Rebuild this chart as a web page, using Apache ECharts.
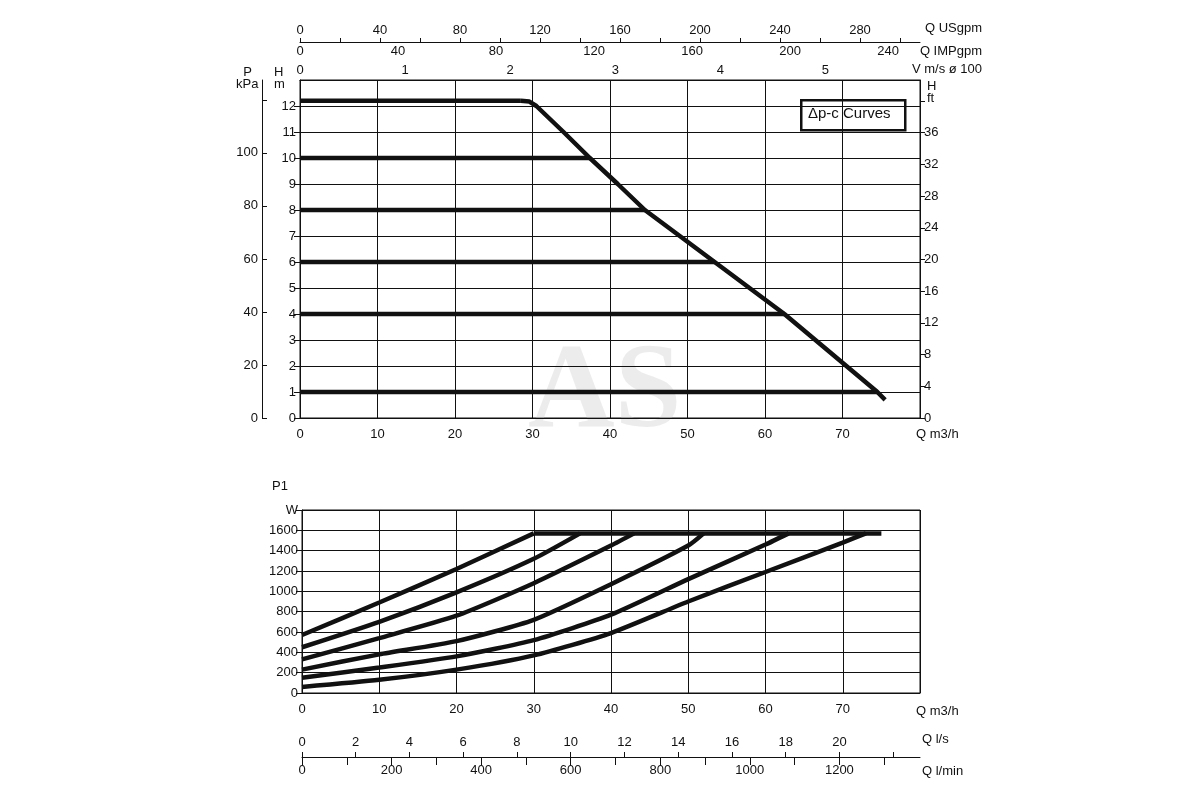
<!DOCTYPE html>
<html>
<head>
<meta charset="utf-8">
<script src="https://cdn.jsdelivr.net/npm/echarts@6/dist/echarts.min.js"></script>
<style>html,body{margin:0;padding:0;background:#fff}#main{width:1200px;height:800px}</style>
</head>
<body>
<div id="main"></div>
<script>
var FONT = "'Liberation Sans Narrow', 'Liberation Sans', Arial, sans-serif";
var TXT = { color: "#111", fontFamily: FONT, fontSize: 13 };

/** 上图：Δp-c 曲线 */
var headLevels = [
    { h: 12.2, qEnd: 28.5 },
    { h: 10, qEnd: 37.4 },
    { h: 8, qEnd: 44.5 },
    { h: 6, qEnd: 53.5 },
    { h: 4, qEnd: 62.5 },
    { h: 1, qEnd: 74.5 }
];
var maxCurve = [[28.5, 12.2], [29.6, 12.17], [30.5, 12], [34, 11], [37.4, 10], [41, 9],
    [44.5, 8], [49, 7], [53.5, 6], [58, 5], [62.5, 4], [66.5, 3], [70.5, 2], [74.5, 1], [75.5, 0.7]];

/** 下图：P1 功率曲线 */
var powerCurves = [
    [[0, 570], [10, 890], [20, 1220], [30, 1570]],
    [[0, 450], [10, 700], [20, 990], [30, 1320], [36, 1570]],
    [[0, 330], [10, 540], [20, 760], [30, 1080], [40, 1450], [43, 1570]],
    [[0, 230], [10, 380], [20, 510], [30, 720], [40, 1070], [50, 1450], [52, 1570]],
    [[0, 150], [10, 250], [20, 360], [30, 520], [40, 770], [50, 1120], [60, 1460], [63, 1570]],
    [[0, 60], [10, 130], [20, 230], [30, 370], [40, 590], [50, 900], [60, 1190], [70, 1480], [73, 1570]]
];
var powerFlat = [[30, 1570], [75, 1570]];

var blackLine = { onZero: false, lineStyle: { color: "#111", width: 1 } };
var noLine = { show: false, onZero: false };
var noSplit = { show: false };

function thick(data, xi, yi, smooth) {
    return {
        type: "line", data: data, xAxisIndex: xi, yAxisIndex: yi, smooth: smooth || false,
        showSymbol: false, silent: true,
        lineStyle: { color: "#111", width: 4.5 }
    };
}

var series = [];
headLevels.forEach(function (l) { series.push(thick([[0, l.h], [l.qEnd, l.h]], 0, 0)); });
series.push(thick(maxCurve, 0, 0, false));
powerCurves.forEach(function (c) { series.push(thick(c, 4, 3, 0.2)); });
series.push(thick(powerFlat, 4, 3));

function lab(extra) { return Object.assign({ showMaxLabel: false }, TXT, extra); }

var option = {
    animation: false,
    textStyle: TXT,
    grid: [
        { left: 300, right: 280, top: 80, bottom: 382, show: true, borderColor: "#111", borderWidth: 1 },
        { left: 302, right: 280, top: 510, bottom: 107, show: true, borderColor: "#111", borderWidth: 1 }
    ],
    xAxis: [
        // 0 top Q m3/h
        { type: "value", gridIndex: 0, min: 0, max: 80, interval: 10, position: "bottom",
          axisLine: blackLine, axisTick: { show: false }, axisLabel: lab({ margin: 10 }),
          splitLine: { lineStyle: { color: "#111", width: 1 } } },
        // 1 USgpm
        { type: "value", gridIndex: 0, min: 0, max: 310, interval: 20, position: "top", offset: 38,
          axisLine: blackLine, axisTick: { show: true, length: 4, lineStyle: { color: "#111" } },
          axisLabel: lab({ margin: 5, formatter: function (v) { return (v % 40 === 0 && v <= 280) ? v : ""; } }),
          splitLine: noSplit },
        // 2 IMPgpm
        { type: "value", gridIndex: 0, min: 0, max: 253, interval: 40, position: "top", offset: 38,
          axisLine: noLine, axisTick: { show: false },
          axisLabel: lab({ inside: true, margin: 3 }), splitLine: noSplit },
        // 3 V m/s
        { type: "value", gridIndex: 0, min: 0, max: 5.9, interval: 1, position: "top", offset: 0,
          axisLine: blackLine, axisTick: { show: false },
          axisLabel: lab({ margin: 3 }), splitLine: noSplit },
        // 4 bottom Q m3/h
        { type: "value", gridIndex: 1, min: 0, max: 80, interval: 10, position: "bottom",
          axisLine: blackLine, axisTick: { show: false }, axisLabel: lab({ margin: 10 }),
          splitLine: { lineStyle: { color: "#111", width: 1 } } },
        // 5 l/s
        { type: "value", gridIndex: 1, min: 0, max: 23, interval: 2, position: "bottom", offset: 64,
          axisLine: blackLine, axisTick: { show: true, length: 5, inside: true, lineStyle: { color: "#111" } },
          axisLabel: lab({ inside: true, margin: 8, formatter: function (v) { return v <= 20 ? v : ""; } }),
          splitLine: noSplit },
        // 6 l/min
        { type: "value", gridIndex: 1, min: 0, max: 1380, interval: 100, position: "bottom", offset: 64,
          axisLine: noLine, axisTick: { show: true, length: 8, lineStyle: { color: "#111" } },
          axisLabel: lab({ margin: 7, formatter: function (v) { return (v % 200 === 0 && v <= 1200) ? v : ""; } }),
          splitLine: noSplit }
    ],
    yAxis: [
        // 0 H m
        { type: "value", gridIndex: 0, min: 0, max: 13, interval: 1, position: "left",
          axisLine: blackLine, axisTick: { show: true, length: 6, lineStyle: { color: "#111" } },
          axisLabel: lab({ margin: 4 }),
          splitLine: { lineStyle: { color: "#111", width: 1 } } },
        // 1 kPa
        { type: "value", gridIndex: 0, min: 0, max: 127.5, interval: 20, position: "left", offset: 38,
          axisLine: blackLine, axisTick: { show: true, length: 5, inside: true, lineStyle: { color: "#111" } },
          axisLabel: lab({ margin: 4, formatter: function (v) { return v <= 100 ? v : ""; } }), splitLine: noSplit },
        // 2 ft
        { type: "value", gridIndex: 0, min: 0, max: 42.65, interval: 4, position: "right",
          axisLine: blackLine, axisTick: { show: true, length: 5, lineStyle: { color: "#111" } },
          axisLabel: lab({ margin: 4, formatter: function (v) { return v <= 36 ? v : ""; } }),
          splitLine: noSplit },
        // 3 P1 W
        { type: "value", gridIndex: 1, min: 0, max: 1800, interval: 200, position: "left",
          axisLine: blackLine, axisTick: { show: true, length: 6, lineStyle: { color: "#111" } },
          axisLabel: Object.assign({ margin: 4, formatter: function (v) { return v === 1800 ? "W" : v; } }, TXT),
          splitLine: { lineStyle: { color: "#111", width: 1 } } }
    ],
    graphic: [
        { type: "text", left: 236, top: 66, style: { text: "  P\nkPa", fill: "#111", font: "13px " + FONT, lineHeight: 12 } },
        { type: "text", left: 274, top: 66, style: { text: "H\nm", fill: "#111", font: "13px " + FONT, lineHeight: 12 } },
        { type: "text", left: 927, top: 80, style: { text: "H\nft", fill: "#111", font: "13px " + FONT, lineHeight: 12 } },
        { type: "text", right: 218, top: 22, style: { text: "Q USgpm", fill: "#111", font: "13px " + FONT } },
        { type: "text", right: 218, top: 45, style: { text: "Q IMPgpm", fill: "#111", font: "13px " + FONT } },
        { type: "text", right: 218, top: 63, style: { text: "V m/s \u00f8 100", fill: "#111", font: "13px " + FONT } },
        { type: "text", left: 916, top: 428, style: { text: "Q m3/h", fill: "#111", font: "13px " + FONT } },
        { type: "text", left: 916, top: 705, style: { text: "Q m3/h", fill: "#111", font: "13px " + FONT } },
        { type: "text", left: 922, top: 733, style: { text: "Q l/s", fill: "#111", font: "13px " + FONT } },
        { type: "text", left: 922, top: 765, style: { text: "Q l/min", fill: "#111", font: "13px " + FONT } },
        { type: "text", left: 272, top: 480, style: { text: "P1", fill: "#111", font: "13px " + FONT } },
        { type: "rect", left: 800, top: 99, shape: { width: 104, height: 30 },
          style: { fill: "#fff", stroke: "#111", lineWidth: 2.5 } },
        { type: "text", left: 808, top: 106, style: { text: "\u0394p-c Curves", fill: "#111", font: "15px " + FONT } },
        { type: "text", left: 528, top: 335, silent: true,
          style: { text: "AS", fill: "rgba(200,200,200,0.35)", font: "bold 120px 'Liberation Serif', serif" } }
    ],
    series: series
};

var chart = echarts.init(document.getElementById("main"));
chart.setOption(option);
</script>
</body>
</html>
